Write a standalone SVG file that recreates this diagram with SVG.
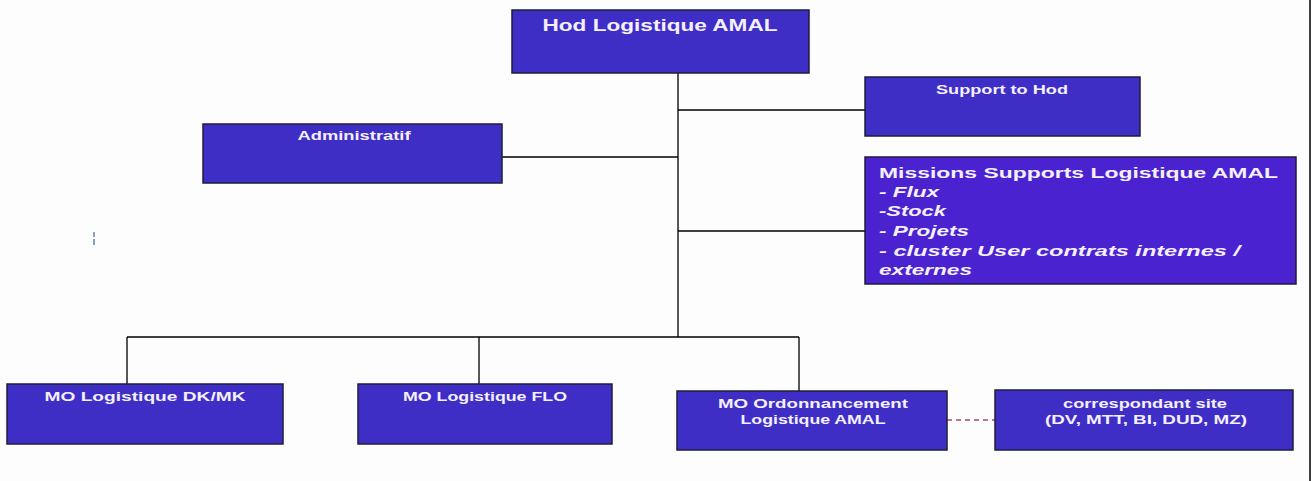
<svg xmlns="http://www.w3.org/2000/svg" width="1311" height="481" viewBox="0 0 1311 481">
<style>
.box{fill:#3f2ec6;stroke:#1e1e3a;stroke-width:1.5}
.boxm{fill:#4a22cf;stroke:#1e1e3a;stroke-width:1.5}
.t{font-family:"Liberation Sans","Open Sans",sans-serif;font-weight:bold;fill:#f4f0ff;text-anchor:middle;font-size:12.5px}
.tl{font-family:"Liberation Sans","Open Sans",sans-serif;font-weight:bold;fill:#f4f0ff;font-size:15.5px}
.c{stroke:#000;stroke-width:1.3;fill:none}
</style>
<rect width="1311" height="481" fill="#fdfdfd"/>
<g id="connectors">
<path class="c" d="M678 73V337M678 110H865M502 157H678M678 231H865M127 337H799M127 337V384M479 337V384M799 337V391"/>
<path d="M947 420H995" stroke="#a05060" stroke-width="1.3" stroke-dasharray="5,4" fill="none"/>
</g>
<g id="hod"><rect class="box" x="512" y="10" width="297" height="63"/><text class="t" x="660" y="31" style="font-size:16px" textLength="235" lengthAdjust="spacingAndGlyphs">Hod Logistique AMAL</text></g>
<g id="support"><rect class="box" x="865" y="77" width="275" height="59"/><text class="t" x="1002" y="94" textLength="132" lengthAdjust="spacingAndGlyphs">Support to Hod</text></g>
<g id="admin"><rect class="box" x="203" y="124" width="299" height="59"/><text class="t" x="354" y="140" textLength="113" lengthAdjust="spacingAndGlyphs">Administratif</text></g>
<g id="missions"><rect class="boxm" x="865" y="157" width="431" height="127"/>
<text class="tl" x="879" y="178" textLength="399" lengthAdjust="spacingAndGlyphs">Missions Supports  Logistique AMAL</text>
<text class="tl" x="879" y="197" font-style="italic" textLength="60" lengthAdjust="spacingAndGlyphs">- Flux</text>
<text class="tl" x="879" y="216" font-style="italic" textLength="67" lengthAdjust="spacingAndGlyphs">-Stock</text>
<text class="tl" x="879" y="236" font-style="italic" textLength="90" lengthAdjust="spacingAndGlyphs">- Projets</text>
<text class="tl" x="879" y="256" font-style="italic" textLength="361" lengthAdjust="spacingAndGlyphs">- cluster  User contrats internes /</text>
<text class="tl" x="879" y="275" font-style="italic" textLength="93" lengthAdjust="spacingAndGlyphs">externes</text>
</g>
<g id="dkmk"><rect class="box" x="7" y="384" width="276" height="60"/><text class="t" x="145" y="401" textLength="201" lengthAdjust="spacingAndGlyphs">MO  Logistique  DK/MK</text></g>
<g id="flo"><rect class="box" x="358" y="384" width="254" height="60"/><text class="t" x="485" y="401" textLength="164" lengthAdjust="spacingAndGlyphs">MO Logistique  FLO</text></g>
<g id="ordo"><rect class="box" x="677" y="391" width="270" height="59"/><text class="t" x="813" y="408" textLength="190" lengthAdjust="spacingAndGlyphs">MO Ordonnancement</text><text class="t" x="813" y="424" textLength="145" lengthAdjust="spacingAndGlyphs">Logistique AMAL</text></g>
<g id="corr"><rect class="box" x="995" y="390" width="298" height="60"/><text class="t" x="1145" y="408" textLength="164" lengthAdjust="spacingAndGlyphs">correspondant site</text><text class="t" x="1146" y="424" textLength="202" lengthAdjust="spacingAndGlyphs">(DV, MTT, BI, DUD, MZ)</text></g>
<path d="M94 232V237M94 239V245" stroke="#4060a0" stroke-width="1.2"/>
<path d="M1310 0V481" stroke="#000" stroke-width="1.5"/>
</svg>
